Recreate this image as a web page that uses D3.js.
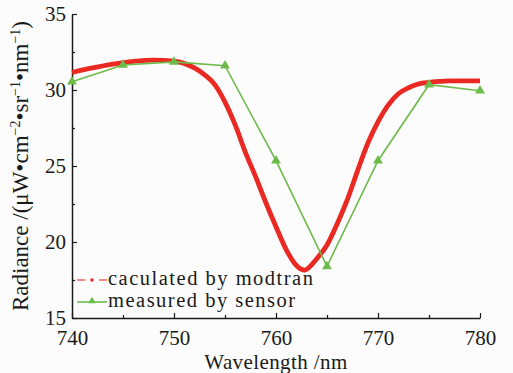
<!DOCTYPE html>
<html>
<head>
<meta charset="utf-8">
<script src="https://cdn.jsdelivr.net/npm/d3@7"></script>
<style>
  html, body { margin: 0; padding: 0; background: #fcfcfc; }
  svg { display: block; }
  text { font-family: "Liberation Serif", "DejaVu Serif", serif; fill: #1a1a1a; }
</style>
</head>
<body>
<div id="chart"></div>
<script>
// modtran simulated radiance (smooth curve)
const modtranWl = [740, 742, 744, 746, 748, 750, 751, 752, 753, 754, 755, 756, 757, 758, 759, 760, 761, 762, 762.8, 763.5, 764, 765, 766, 767, 768, 769, 770, 771, 772, 773, 774, 775, 777, 780];
const modtranVal = [31.15, 31.45, 31.7, 31.88, 31.97, 31.9, 31.75, 31.45, 31.0, 30.35, 29.2, 27.7, 25.9, 24.3, 22.6, 21.0, 19.5, 18.45, 18.15, 18.5, 18.9, 19.8, 21.2, 22.8, 24.7, 26.5, 27.9, 29.0, 29.75, 30.15, 30.4, 30.5, 30.6, 30.6];

// sensor measurements
const sensorWl = [740, 745, 750, 755, 760, 765, 770, 775, 780];
const sensorVal = [30.55, 31.65, 31.85, 31.6, 25.35, 18.4, 25.35, 30.35, 29.95];

const xTicks = [740, 750, 760, 770, 780];
const xMinor = [745, 755, 765, 775];
const yTicks = [15, 20, 25, 30, 35];
const yMinor = [17.5, 22.5, 27.5, 32.5];

const legendLabels = ['caculated by modtran', 'measured by sensor'];

const W = 513, H = 373;
const red = '#ea2a22', green = '#6dbb4a';

const svg = d3.select('#chart').append('svg')
  .attr('width', W)
  .attr('height', H);

const x = d3.scaleLinear().domain([740, 780]).range([72, 480]);
const y = d3.scaleLinear().domain([15, 35]).range([318, 14]);

// axes, ticks point inward
svg.append('g')
  .attr('transform', `translate(0,${y(15)})`)
  .call(d3.axisBottom(x).tickValues(xTicks).tickFormat(d3.format('d'))
    .tickSizeInner(-5).tickSizeOuter(0).tickPadding(12));

svg.append('g')
  .attr('transform', `translate(0,${y(15)})`)
  .call(d3.axisBottom(x).tickValues(xMinor).tickFormat('').tickSizeInner(-3).tickSizeOuter(0))
  .select('.domain').remove();

svg.append('g')
  .attr('transform', `translate(${x(740)},0)`)
  .call(d3.axisLeft(y).tickValues(yTicks).tickFormat(d3.format('d'))
    .tickSizeInner(-5).tickSizeOuter(0).tickPadding(6));

svg.append('g')
  .attr('transform', `translate(${x(740)},0)`)
  .call(d3.axisLeft(y).tickValues(yMinor).tickFormat('').tickSizeInner(-3).tickSizeOuter(0))
  .select('.domain').remove();

svg.selectAll('.domain').attr('stroke', '#1a1a1a').attr('stroke-width', 1.5);
svg.selectAll('.tick line').attr('stroke', '#1a1a1a').attr('stroke-width', 1.2);
svg.selectAll('.tick text')
  .style('font-family', '"Liberation Serif", serif')
  .style('font-size', '21px')
  .attr('fill', '#1a1a1a');

// curves
const modtran = modtranWl.map((w, i) => [w, modtranVal[i]]);
const sensor = sensorWl.map((w, i) => [w, sensorVal[i]]);

svg.append('path')
  .datum(modtran)
  .attr('fill', 'none')
  .attr('stroke', red)
  .attr('stroke-width', 4.8)
  .attr('d', d3.line().x(d => x(d[0])).y(d => y(d[1])).curve(d3.curveMonotoneX));

svg.append('path')
  .datum(sensor)
  .attr('fill', 'none')
  .attr('stroke', green)
  .attr('stroke-width', 1.6)
  .attr('d', d3.line().x(d => x(d[0])).y(d => y(d[1])));

const tri = d3.symbol().type(d3.symbolTriangle).size(42);
svg.selectAll('path.pt')
  .data(sensor)
  .enter().append('path')
  .attr('class', 'pt')
  .attr('transform', d => `translate(${x(d[0])},${y(d[1])})`)
  .attr('d', tri)
  .attr('fill', green);

// legend
const lg = svg.append('g').attr('transform', 'translate(77,0)');
lg.append('line')
  .attr('x1', 0).attr('x2', 8).attr('y1', 280).attr('y2', 280)
  .attr('stroke', red).attr('stroke-width', 1.1);
lg.append('line')
  .attr('x1', 22).attr('x2', 30).attr('y1', 280).attr('y2', 280)
  .attr('stroke', red).attr('stroke-width', 1.1);
lg.append('circle').attr('cx', 15).attr('cy', 280).attr('r', 1.8).attr('fill', red);

lg.append('line')
  .attr('x1', 0).attr('x2', 30).attr('y1', 302).attr('y2', 302)
  .attr('stroke', green).attr('stroke-width', 1.6);
lg.append('path')
  .attr('transform', 'translate(15,301)')
  .attr('d', d3.symbol().type(d3.symbolTriangle).size(24))
  .attr('fill', green);

lg.selectAll('text.lg')
  .data(legendLabels)
  .enter().append('text')
  .attr('class', 'lg')
  .attr('x', 31)
  .attr('y', (d, i) => 284.5 + i * 22.5)
  .style('font-size', '20.5px')
  .style('letter-spacing', '1.5px')
  .text(d => d);

// axis titles
svg.append('text')
  .attr('x', x(760))
  .attr('y', 369)
  .attr('text-anchor', 'middle')
  .style('font-size', '21px')
  .style('letter-spacing', '0.4px')
  .text('Wavelength /nm');

const yl = svg.append('text')
  .attr('transform', `translate(28,${(y(15) + y(35)) / 2}) rotate(-90)`)
  .attr('text-anchor', 'middle')
  .style('font-size', '23px');
yl.append('tspan').text('Radiance /(μW•cm');
yl.append('tspan').attr('dy', -8).style('font-size', '14px').text('−2');
yl.append('tspan').attr('dy', 8).text('•sr');
yl.append('tspan').attr('dy', -8).style('font-size', '14px').text('−1');
yl.append('tspan').attr('dy', 8).text('•nm');
yl.append('tspan').attr('dy', -8).style('font-size', '14px').text('−1');
yl.append('tspan').attr('dy', 8).text(')');
</script>
</body>
</html>
